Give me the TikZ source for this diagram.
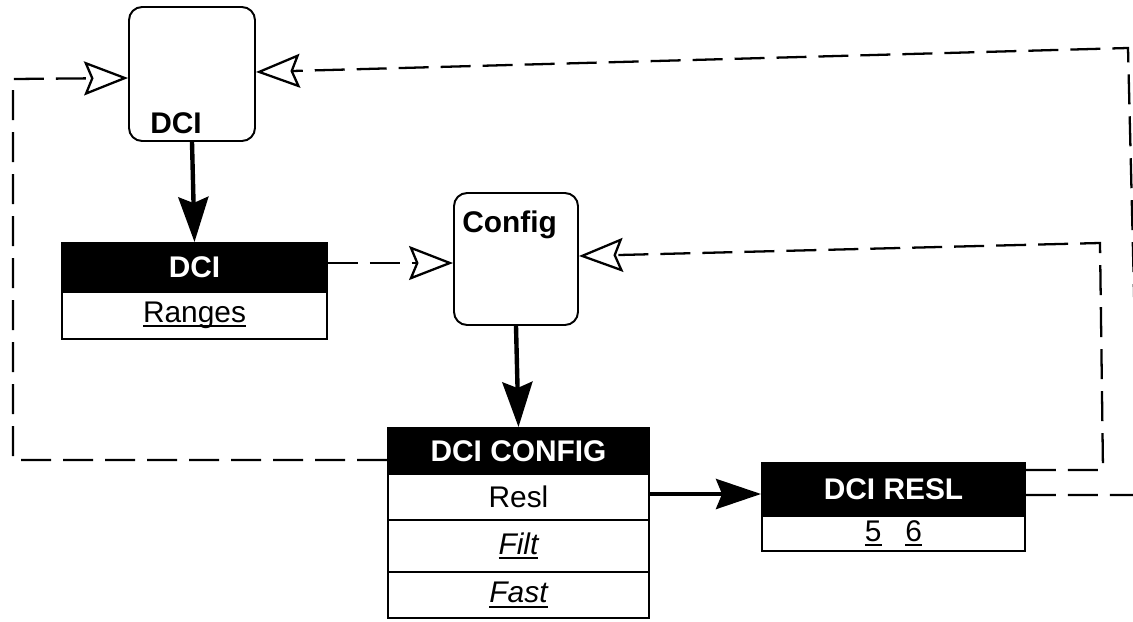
\documentclass[tikz,border=0pt]{standalone}
\usepackage{fontspec}
\setmainfont{Liberation Sans}
\usetikzlibrary{arrows.meta}
\newcommand{\myul}[1]{\setbox0\hbox{#1}\rlap{\rule[-2.6pt]{\wd0}{1.1pt}}\box0}
\begin{document}
\begin{tikzpicture}[x=0.02cm,y=-0.02cm,
  box/.style={draw=black, line width=1.1pt, inner sep=0pt, font=\fontsize{17}{20}\selectfont},
  rbox/.style={box, rounded corners=0.26cm, fill=white},
  hdr/.style={box, fill=black, text=white, font=\fontsize{17}{20}\selectfont\bfseries},
  row/.style={box, fill=white},
  lbl/.style={inner sep=0pt, font=\fontsize{17}{20}\selectfont\bfseries},
  thickarrow/.style={line width=2.5pt, -{Stealth[length=0.9cm,width=0.6cm,inset=0.12cm]}},
  dashline/.style={line width=1.3pt, dash pattern=on 0.6cm off 0.24cm},
  hollow/.style={dashline, -{Stealth[open, fill=white, length=0.88cm, width=0.68cm, inset=0.14cm]}}
]
\clip (0,0) rectangle (1133,622);
\useasboundingbox (0,0) rectangle (1133,622);
\fill[white] (0,0) rectangle (1133,622);

% rounded boxes
\node[rbox, minimum width=2.52cm, minimum height=2.68cm] (dci) at (192,74) {};
\node[lbl, anchor=base west] (dcilbl) at (150,133) {DCI};
\node[rbox, minimum width=2.48cm, minimum height=2.64cm] (cfg) at (516,259) {};
\node[lbl, anchor=base west] (cfglbl) at (462,232) {Config};

% DCI table
\node[hdr, minimum width=5.3cm, minimum height=0.98cm] (dcihdr) at (194.5,267.5) {DCI};
\node[row, minimum width=5.3cm, minimum height=0.94cm] (ranges) at (194.5,315.5) {\myul{Ranges}};

% DCI CONFIG table
\node[hdr, minimum width=5.22cm, minimum height=0.92cm] (cfghdr) at (518.5,451) {DCI CONFIG};
\node[row, minimum width=5.22cm, minimum height=0.92cm] (resl) at (518.5,497) {Resl};
\node[row, minimum width=5.22cm, minimum height=1.04cm] (filt) at (518.5,546) {\myul{\itshape Filt}};
\node[row, minimum width=5.22cm, minimum height=0.92cm] (fast) at (518.5,595) {\myul{\itshape Fast}};

% DCI RESL table
\node[hdr, minimum width=5.26cm, minimum height=1.06cm] (reslhdr) at (893.5,489.5) {DCI RESL};
\node[row, minimum width=5.26cm, minimum height=0.7cm] (reslrow) at (893.5,533.5) {\myul{5}\hspace{0.8em}\myul{6}};

% solid arrows
\draw[thickarrow] (dci.south) -- (dcihdr.north);
\draw[thickarrow] (cfg.south) -- (cfghdr.north);
\draw[thickarrow] (resl.east |- 0,494) -- (reslhdr.west |- 0,494);

% dashed connectors
\draw[hollow] (dcihdr.east |- 0,263) -- (cfg.west |- 0,263);
\draw[hollow] (cfghdr.west |- 0,460) -- (13,460) -- (13,79) -- (dci.west |- 0,78);
\draw[hollow] (reslhdr.east |- 0,495) -- (1139,495) -- (1128,48) -- (dci.east |- 0,72);
\draw[hollow] (reslhdr.east |- 0,470) -- (1103,470) -- (1100,243) -- (cfg.east |- 0,256);
\end{tikzpicture}
\end{document}
